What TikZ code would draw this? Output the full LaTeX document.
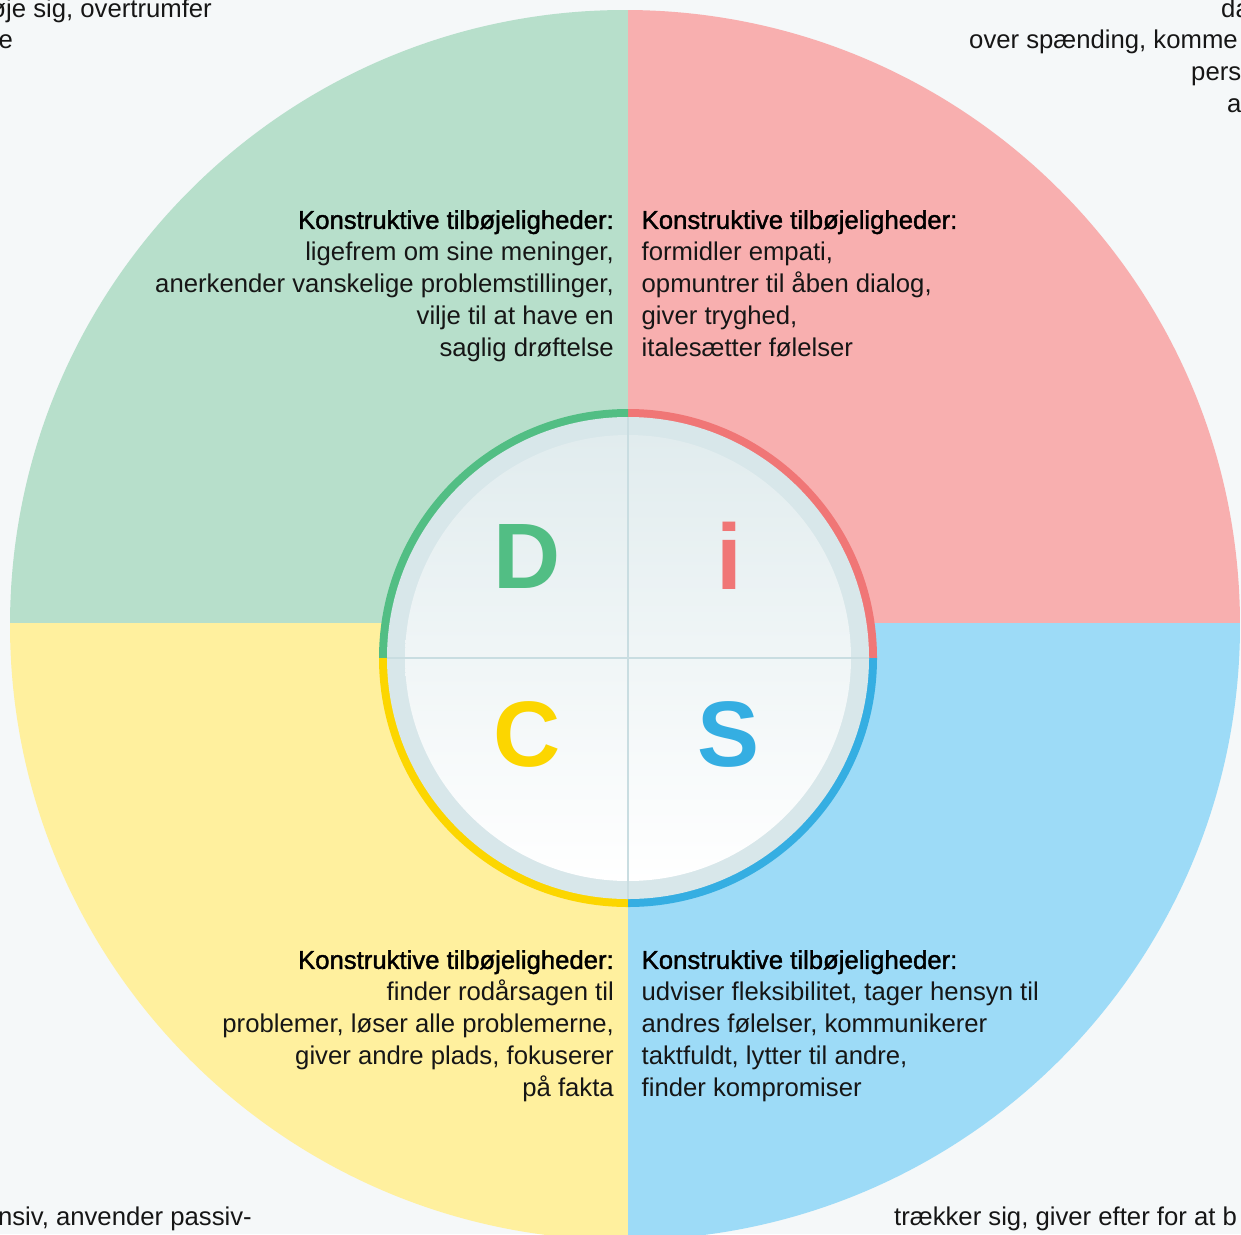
\documentclass[tikz,border=0pt]{standalone}
\usepackage{fontspec}
\setmainfont{Liberation Sans}
\newfontfamily\headfont[FakeBold=1.5]{Liberation Sans}
\usepackage{tikz}

\definecolor{bg}{HTML}{F5F8F9}
\definecolor{quadD}{HTML}{B7DFCB}
\definecolor{quadI}{HTML}{F8AFAF}
\definecolor{quadS}{HTML}{9DDBF7}
\definecolor{quadC}{HTML}{FFF09E}
\definecolor{ringD}{HTML}{52BE84}
\definecolor{ringI}{HTML}{F07676}
\definecolor{ringS}{HTML}{35AEE2}
\definecolor{ringC}{HTML}{FCD600}
\definecolor{band}{HTML}{D8E7EA}
\definecolor{disktop}{HTML}{E1ECEE}
\definecolor{crossline}{HTML}{C9DDE1}
\definecolor{txt}{HTML}{161616}

\tikzstyle{lefttxt}=[anchor=north east,
                align=right,
                inner sep=0pt,
                text=txt,
                font=\fontsize{25.7}{32}\selectfont]
\tikzstyle{righttxt}=[anchor=north west,
                align=left,
                inner sep=0pt,
                text=txt,
                font=\fontsize{25.7}{32}\selectfont]
\tikzstyle{edgetxt}=[inner sep=0pt,
                text=txt,
                font=\fontsize{25.7}{32}\selectfont]
\tikzstyle{letter}=[inner sep=0pt,
                font=\fontsize{93}{93}\selectfont\bfseries]

\newcommand{\konstr}{{\headfont\color{black}Konstruktive tilbøjeligheder:}}

\begin{document}
\begin{tikzpicture}[x=1pt,y=-1pt]

% page
\useasboundingbox (0,0) rectangle (1241,1234);
\clip (0,0) rectangle (1241,1234);
\fill[bg] (0,0) rectangle (1241,1234);

% big quadrants
\begin{scope}
  \clip (625,625) circle (615pt);
  \fill[quadD] (0,0) rectangle (627.5,622.5);
  \fill[quadI] (627.5,0) rectangle (1241,622.5);
  \fill[quadC] (0,622.5) rectangle (627.5,1241);
  \fill[quadS] (627.5,622.5) rectangle (1241,1241);
\end{scope}

% inner ring and disk
\coordinate (c) at (628,658);
\fill[ringI] (c) -- ++(0:249pt) arc[start angle=0,end angle=90,radius=249pt] -- cycle;
\fill[ringD] (c) -- ++(90:249pt) arc[start angle=90,end angle=180,radius=249pt] -- cycle;
\fill[ringC] (c) -- ++(180:249pt) arc[start angle=180,end angle=270,radius=249pt] -- cycle;
\fill[ringS] (c) -- ++(270:249pt) arc[start angle=270,end angle=360,radius=249pt] -- cycle;
\fill[band] (c) circle (241pt);
\shade[top color=disktop,bottom color=white] (c) circle (223pt);
\draw[crossline,line width=1.5pt] (628,417) -- (628,899);
\draw[crossline,line width=1.5pt] (387,658) -- (869,658);

% letters
\node[letter,text=ringD] (D) at (527,556) {D};
\node[letter,text=ringI] (I) at (729,556) {i};
\node[letter,text=ringC] (C) at (527,734) {C};
\node[letter,text=ringS] (S) at (729,734) {S};

% constructive tendencies
\node[lefttxt] (consD) at (614,210) {\konstr\\ligefrem om sine meninger,\\anerkender vanskelige problemstillinger,\\vilje til at have en\\saglig drøftelse};
\node[righttxt] (consI) at (641.5,210) {\konstr\\formidler empati,\\opmuntrer til åben dialog,\\giver tryghed,\\italesætter følelser};
\node[lefttxt] (consC) at (614,950) {\konstr\\finder rodårsagen til\\problemer, løser alle problemerne,\\giver andre plads, fokuserer\\på fakta};
\node[righttxt] (consS) at (641.5,950) {\konstr\\udviser fleksibilitet, tager hensyn til\\andres følelser, kommunikerer\\taktfuldt, lytter til andre,\\finder kompromiser};

% cut-off texts at the corners
\node[edgetxt,anchor=base east] (overD1) at (212,17) {øje sig, overtrumfer};
\node[edgetxt,anchor=base east] (overD2) at (13,48) {e};
\node[edgetxt,anchor=base west] (overI1) at (1221,17) {da};
\node[edgetxt,anchor=base west] (overI2) at (969,48) {over spænding, komme};
\node[edgetxt,anchor=base west] (overI3) at (1191,80) {pers};
\node[edgetxt,anchor=base west] (overI4) at (1227,112) {a};
\node[edgetxt,anchor=base east] (overC) at (252,1225) {nsiv, anvender passiv-};
\node[edgetxt,anchor=base west] (overS) at (894,1225) {trækker sig, giver efter for at b};

\end{tikzpicture}
\end{document}
